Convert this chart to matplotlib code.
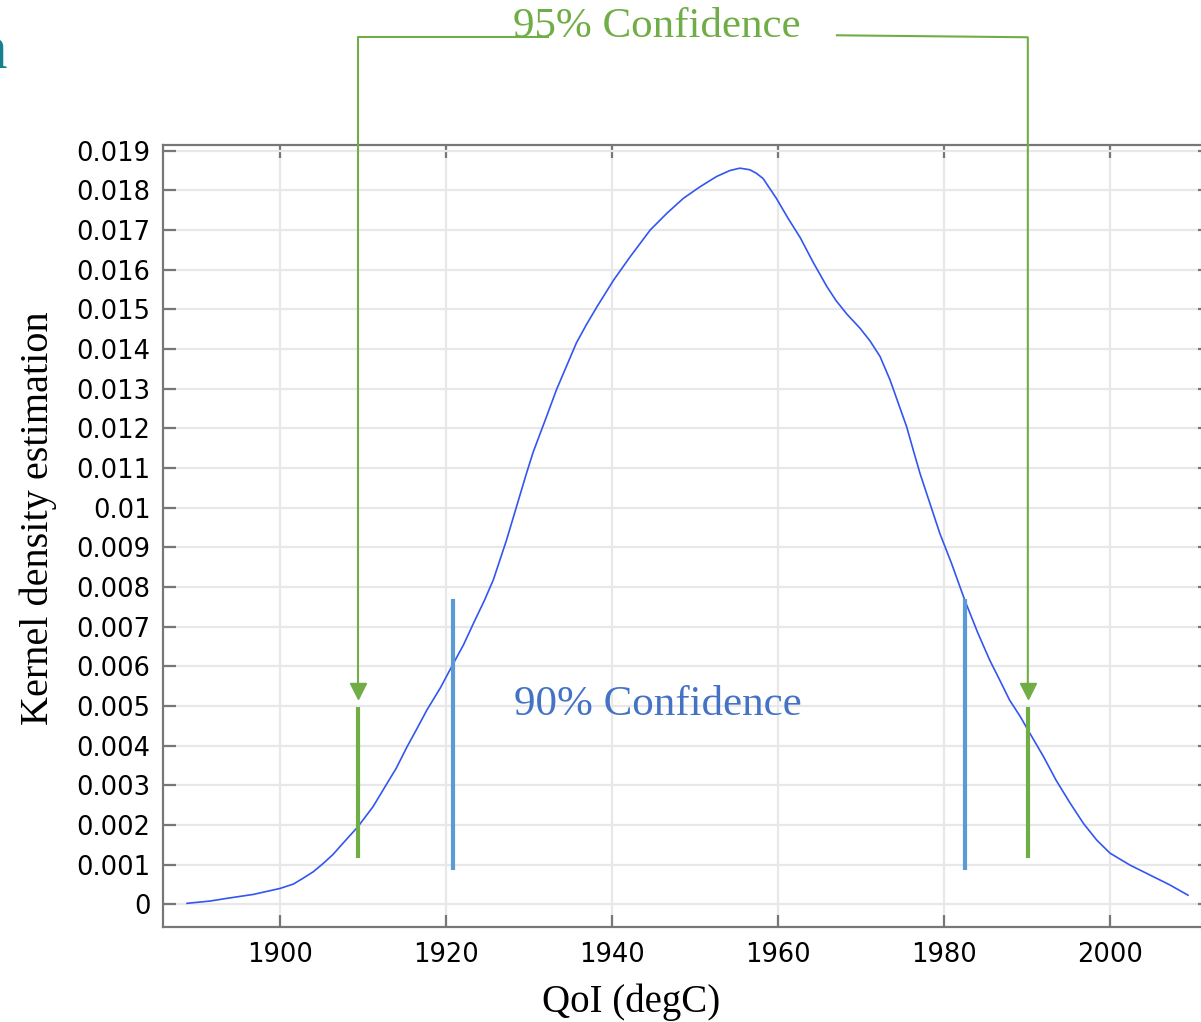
import matplotlib
matplotlib.use('Agg')
import matplotlib.pyplot as plt

# ---- data ----
kde_x = [1888.8, 1891.6, 1893.6, 1896.8, 1900.0, 1901.6, 1902.8, 1904.0, 1905.2,
         1906.4, 1907.2, 1909.4, 1911.2, 1912.9, 1914.0, 1915.3, 1916.4, 1917.7,
         1919.3, 1920.7, 1922.1, 1923.5, 1924.6, 1925.7, 1927.3, 1928.5, 1929.7,
         1930.5, 1932.1, 1933.3, 1934.5, 1935.7, 1936.9, 1938.2, 1940.2, 1942.2,
         1944.6, 1946.6, 1948.6, 1950.6, 1952.6, 1954.2, 1955.4, 1956.6, 1957.4,
         1958.2, 1959.8, 1961.2, 1962.7, 1964.2, 1965.9, 1967.0, 1968.3, 1969.9,
         1971.1, 1972.3, 1973.5, 1974.5, 1975.5, 1976.3, 1977.1, 1978.3, 1979.5,
         1980.9, 1982.5, 1984.1, 1985.5, 1986.7, 1987.9, 1989.2, 1990.1, 1992.0,
         1993.5, 1995.2, 1996.8, 1998.4, 2000.0, 2002.4, 2004.8, 2007.2, 2009.4]
kde_y = [0.000025, 0.000083, 0.00015, 0.00025, 0.00040, 0.00051, 0.00066, 0.00082,
         0.00103, 0.00126, 0.00145, 0.00196, 0.00246, 0.00305, 0.00343, 0.00397,
         0.00439, 0.00490, 0.00545, 0.00600, 0.00654, 0.00717, 0.00765, 0.00818,
         0.00919, 0.01003, 0.01087, 0.01140, 0.01229, 0.01297, 0.01356, 0.01415,
         0.01461, 0.01507, 0.01574, 0.01633, 0.01700, 0.01742, 0.01780, 0.01809,
         0.01835, 0.01850, 0.01856, 0.01852, 0.01843, 0.01830, 0.01780, 0.01730,
         0.01680, 0.01620, 0.01557, 0.01522, 0.01488, 0.01452, 0.01420, 0.01381,
         0.01322, 0.01263, 0.01204, 0.01145, 0.01087, 0.01011, 0.00935, 0.00860,
         0.00767, 0.00683, 0.00616, 0.00566, 0.00515, 0.00473, 0.00440, 0.00372,
         0.00313, 0.00255, 0.00204, 0.00162, 0.00129, 0.00099, 0.00074, 0.00049,
         0.00023]

ci95 = [1909.4, 1990.1]          # 95% confidence bounds
ci90 = [1920.8, 1982.5]          # 90% confidence bounds
ci95_bar = [0.00117, 0.00498]    # vertical extent of the green marks
ci90_bar = [0.00087, 0.00770]    # vertical extent of the blue marks
arrow_top = 0.02186
arrow_tip = 0.00537
label95_x = [1932.3, 1967.1]     # where the bracket meets the label

xticks = [1900, 1920, 1940, 1960, 1980, 2000]
xticklabels = ['1900', '1920', '1940', '1960', '1980', '2000']
yticks = [i / 1000 for i in range(20)]
yticklabels = ['0', '0.001', '0.002', '0.003', '0.004', '0.005', '0.006', '0.007',
               '0.008', '0.009', '0.01', '0.011', '0.012', '0.013', '0.014',
               '0.015', '0.016', '0.017', '0.018', '0.019']

GREEN = '#70AD47'
BLUE_BAR = '#5B9BD5'
BLUE_TXT = '#4472C4'
CURVE = '#3355F0'
SPINE = '#777777'
SERIF = ['Liberation Serif', 'DejaVu Serif']

W, H = 1201, 1022
fig = plt.figure(figsize=(W / 100, H / 100), dpi=100)
ax = fig.add_axes([163 / W, 95 / H, (1210 - 163) / W, (927 - 145) / H])

ax.plot(kde_x, kde_y, color=CURVE, lw=1.2, zorder=3, solid_joinstyle='round')

ax.set_xlim(1885.9, 2012.05)
ax.set_ylim(-0.000572, 0.019144)
ax.set_xticks(xticks)
ax.set_xticklabels(xticklabels)
ax.set_yticks(yticks)
ax.set_yticklabels(yticklabels)
ax.grid(True, color='#e8e8e8', lw=1.6, zorder=0)
ax.set_axisbelow(True)
for s in ax.spines.values():
    s.set_color(SPINE)
    s.set_linewidth(1.6)
ax.tick_params(axis='both', direction='in', length=9, width=1.6, color=SPINE,
               labelsize=18.5, labelcolor='black', top=True, right=True)
ax.tick_params(axis='y', pad=9)
ax.tick_params(axis='x', pad=11)

# confidence marks
for xb in ci90:
    ax.plot([xb, xb], ci90_bar, color=BLUE_BAR, lw=3, solid_capstyle='butt', zorder=4)
for xb in ci95:
    ax.plot([xb, xb], ci95_bar, color=GREEN, lw=3, solid_capstyle='butt', zorder=4)

# 95% bracket arrows
ax.plot([label95_x[0], ci95[0], ci95[0]], [arrow_top, arrow_top, arrow_tip + 0.0002],
        color=GREEN, lw=1.5, clip_on=False, zorder=4)
ax.plot([label95_x[1], ci95[1], ci95[1]], [arrow_top + 0.00005, arrow_top, arrow_tip + 0.0002],
        color=GREEN, lw=1.5, clip_on=False, zorder=4)
ax.plot(ci95, [arrow_tip, arrow_tip], linestyle='none', marker='v', ms=12,
        color=GREEN, mec=GREEN, clip_on=False, zorder=5)

# texts
fig.text(657 / W, 1 - 37 / H, '95% Confidence', color=GREEN, fontsize=31,
         family=SERIF, ha='center', va='baseline')
fig.text(658 / W, 1 - 715 / H, '90% Confidence', color=BLUE_TXT, fontsize=31,
         family=SERIF, ha='center', va='baseline')
fig.text(38 / W, 1 - 518 / H, 'Kernel density estimation', color='black', fontsize=29,
         family=SERIF, rotation=90, ha='center', va='center')
fig.text(631 / W, 1 - 1012 / H, 'QoI (degC)', color='black', fontsize=28,
         family=SERIF, ha='center', va='baseline')
fig.text(7 / W, 1 - 68 / H, 'n', color='#17808E', fontsize=44,
         family=SERIF, ha='right', va='baseline')

fig.savefig('out.png', dpi=100)
